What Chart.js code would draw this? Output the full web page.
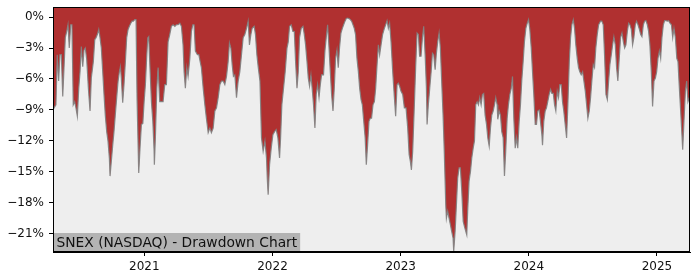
<!DOCTYPE html>
<html>
<head>
<meta charset="utf-8">
<script src="https://cdn.jsdelivr.net/npm/chart.js@4.4.1/dist/chart.umd.min.js"></script>
<style>
  body { margin: 0; background: #ffffff; }
  #box { width: 700px; height: 280px; position: relative; }
</style>
</head>
<body>
<div id="box"><canvas id="ddChart"></canvas></div>
<script>
// drawdown of SNEX, dates as decimal years
var dates = [
  2020.288, 2020.295, 2020.310, 2020.320, 2020.331, 2020.341, 2020.352, 2020.363, 2020.373, 2020.383,
  2020.394, 2020.404, 2020.414, 2020.425, 2020.435, 2020.445, 2020.456, 2020.466, 2020.477, 2020.488,
  2020.498, 2020.508, 2020.519, 2020.529, 2020.539, 2020.550, 2020.563, 2020.576, 2020.586, 2020.602,
  2020.613, 2020.623, 2020.633, 2020.644, 2020.654, 2020.664, 2020.675, 2020.685, 2020.695, 2020.706,
  2020.716, 2020.727, 2020.732, 2020.742, 2020.753, 2020.763, 2020.773, 2020.784, 2020.795, 2020.805,
  2020.813, 2020.820, 2020.831, 2020.841, 2020.852, 2020.862, 2020.873, 2020.883, 2020.894, 2020.904,
  2020.914, 2020.925, 2020.935, 2020.943, 2020.956, 2020.966, 2020.977, 2020.988, 2020.998, 2021.008,
  2021.019, 2021.027, 2021.034, 2021.045, 2021.055, 2021.066, 2021.076, 2021.078, 2021.086, 2021.097,
  2021.107, 2021.120, 2021.146, 2021.159, 2021.172, 2021.185, 2021.198, 2021.211, 2021.224, 2021.238,
  2021.250, 2021.263, 2021.277, 2021.289, 2021.302, 2021.310, 2021.320, 2021.331, 2021.341, 2021.355,
  2021.367, 2021.378, 2021.388, 2021.398, 2021.414, 2021.425, 2021.435, 2021.445, 2021.459, 2021.472,
  2021.484, 2021.498, 2021.511, 2021.523, 2021.537, 2021.550, 2021.563, 2021.576, 2021.589, 2021.602,
  2021.615, 2021.628, 2021.641, 2021.654, 2021.664, 2021.675, 2021.685, 2021.695, 2021.706, 2021.719,
  2021.732, 2021.745, 2021.758, 2021.771, 2021.784, 2021.797, 2021.810, 2021.820, 2021.831, 2021.841,
  2021.857, 2021.867, 2021.878, 2021.888, 2021.902, 2021.914, 2021.927, 2021.941, 2021.953, 2021.959,
  2021.966, 2021.977, 2021.990, 2022.003, 2022.016, 2022.029, 2022.042, 2022.055, 2022.063, 2022.073,
  2022.086, 2022.099, 2022.113, 2022.123, 2022.133, 2022.146, 2022.159, 2022.170, 2022.180, 2022.191,
  2022.201, 2022.211, 2022.224, 2022.238, 2022.248, 2022.258, 2022.269, 2022.279, 2022.289, 2022.300,
  2022.310, 2022.320, 2022.331, 2022.341, 2022.352, 2022.363, 2022.373, 2022.383, 2022.398, 2022.409,
  2022.420, 2022.430, 2022.441, 2022.451, 2022.461, 2022.472, 2022.482, 2022.492, 2022.503, 2022.513,
  2022.523, 2022.534, 2022.545, 2022.555, 2022.566, 2022.576, 2022.586, 2022.597, 2022.607, 2022.617,
  2022.628, 2022.638, 2022.648, 2022.659, 2022.670, 2022.680, 2022.691, 2022.701, 2022.712, 2022.723,
  2022.732, 2022.742, 2022.753, 2022.763, 2022.773, 2022.784, 2022.795, 2022.805, 2022.816, 2022.826,
  2022.836, 2022.847, 2022.859, 2022.873, 2022.883, 2022.894, 2022.904, 2022.914, 2022.925, 2022.938,
  2022.951, 2022.961, 2022.972, 2022.982, 2022.992, 2023.003, 2023.016, 2023.029, 2023.042, 2023.055,
  2023.066, 2023.076, 2023.084, 2023.094, 2023.107, 2023.117, 2023.128, 2023.138, 2023.148, 2023.159,
  2023.170, 2023.180, 2023.191, 2023.201, 2023.206, 2023.216, 2023.227, 2023.238, 2023.248, 2023.258,
  2023.269, 2023.279, 2023.289, 2023.300, 2023.310, 2023.320, 2023.331, 2023.341, 2023.352, 2023.357,
  2023.367, 2023.378, 2023.388, 2023.398, 2023.409, 2023.414, 2023.425, 2023.435, 2023.445, 2023.456,
  2023.466, 2023.477, 2023.488, 2023.498, 2023.508, 2023.516, 2023.523, 2023.534, 2023.545, 2023.555,
  2023.566, 2023.576, 2023.586, 2023.597, 2023.607, 2023.617, 2023.628, 2023.638, 2023.648, 2023.659,
  2023.670, 2023.680, 2023.691, 2023.701, 2023.711, 2023.722, 2023.732, 2023.742, 2023.753, 2023.758,
  2023.769, 2023.779, 2023.789, 2023.800, 2023.810, 2023.820, 2023.831, 2023.841, 2023.852, 2023.863,
  2023.873, 2023.883, 2023.894, 2023.904, 2023.914, 2023.925, 2023.935, 2023.945, 2023.956, 2023.966,
  2023.977, 2023.988, 2023.998, 2024.008, 2024.019, 2024.029, 2024.039, 2024.050, 2024.060, 2024.070,
  2024.081, 2024.091, 2024.102, 2024.107, 2024.117, 2024.128, 2024.138, 2024.148, 2024.159, 2024.170,
  2024.180, 2024.191, 2024.201, 2024.211, 2024.222, 2024.232, 2024.242, 2024.253, 2024.263, 2024.273,
  2024.284, 2024.295, 2024.305, 2024.316, 2024.326, 2024.336, 2024.347, 2024.357, 2024.367, 2024.378,
  2024.388, 2024.398, 2024.409, 2024.420, 2024.430, 2024.441, 2024.451, 2024.461, 2024.472, 2024.482,
  2024.492, 2024.503, 2024.513, 2024.523, 2024.534, 2024.545, 2024.560, 2024.570, 2024.581, 2024.591,
  2024.602, 2024.613, 2024.623, 2024.633, 2024.644, 2024.654, 2024.664, 2024.675, 2024.685, 2024.695,
  2024.706, 2024.716, 2024.727, 2024.738, 2024.748, 2024.758, 2024.769, 2024.779, 2024.789, 2024.800,
  2024.810, 2024.820, 2024.831, 2024.841, 2024.852, 2024.863, 2024.873, 2024.883, 2024.894, 2024.904,
  2024.914, 2024.925, 2024.935, 2024.945, 2024.956, 2024.966, 2024.977, 2024.988, 2024.998, 2025.008,
  2025.019, 2025.029, 2025.039, 2025.050, 2025.060, 2025.070, 2025.081, 2025.091, 2025.102, 2025.113,
  2025.123, 2025.133, 2025.144, 2025.155, 2025.164, 2025.175, 2025.185, 2025.195, 2025.201, 2025.211,
  2025.222, 2025.232, 2025.242, 2025.253, 2025.258
];
var drawdown = [
  -9.0, -8.8, -8.5, -3.65, -6.2, -3.65, -3.65, -7.7, -4.9, -2.0,
  -1.4, -0.75, -3.0, -0.75, -0.75, -8.5, -8.2, -8.8, -9.6, -6.9,
  -5.3, -2.85, -4.8, -3.2, -3.0, -4.1, -6.9, -9.1, -5.9, -4.3,
  -2.2, -2.0, -1.7, -1.2, -2.0, -3.0, -5.3, -7.5, -9.5, -11.1,
  -12.0, -13.7, -15.4, -14.0, -12.4, -11.1, -9.5, -7.8, -6.2, -5.3,
  -4.8, -5.9, -8.3, -6.55, -4.3, -2.0, -1.2, -0.9, -0.6, -0.4,
  -0.4, -0.25, -0.25, -8.0, -15.1, -12.7, -10.4, -10.3, -8.2, -6.55,
  -3.65, -2.0, -1.9, -5.3, -8.2, -10.1, -13.0, -14.3, -11.7, -6.9,
  -4.9, -8.2, -8.2, -6.55, -6.55, -2.4, -1.7, -0.9, -0.75, -0.9,
  -0.75, -0.75, -0.6, -0.9, -2.7, -5.3, -6.9, -4.9, -5.75, -4.0,
  -1.4, -0.75, -0.75, -3.3, -3.65, -3.65, -4.3, -4.9, -6.9, -8.5,
  -9.8, -11.2, -10.75, -11.2, -10.75, -9.1, -8.8, -7.8, -6.55, -6.2,
  -6.2, -6.55, -5.75, -4.3, -2.5, -3.0, -4.6, -5.75, -5.6, -7.8,
  -6.2, -5.3, -3.65, -2.0, -1.7, -1.1, -0.4, -2.7, -1.7, -1.1,
  -0.9, -1.7, -3.65, -4.8, -6.2, -11.7, -13.0, -12.0, -13.65, -15.6,
  -17.2, -14.3, -12.7, -11.4, -11.1, -10.9, -11.7, -13.65, -11.7, -8.5,
  -6.9, -5.3, -3.0, -2.4, -0.9, -0.75, -1.4, -1.4, -4.3, -6.9,
  -5.3, -2.0, -1.1, -0.9, -1.7, -2.7, -4.3, -5.9, -6.7, -5.6,
  -7.0, -8.5, -10.75, -7.5, -6.55, -7.8, -6.55, -5.6, -5.6, -3.3,
  -1.9, -0.75, -3.0, -5.3, -7.5, -9.1, -6.9, -4.0, -3.2, -4.9,
  -3.0, -1.55, -1.1, -0.75, -0.4, -0.15, -0.1, -0.15, -0.25, -0.4,
  -0.75, -1.1, -1.7, -4.0, -5.3, -6.9, -8.0, -8.5, -10.1, -11.7,
  -14.3, -12.4, -10.1, -9.8, -9.8, -8.5, -8.2, -6.9, -4.6, -2.7,
  -3.65, -2.7, -1.7, -1.1, -0.75, -0.35, -1.1, -0.6, -2.4, -5.3,
  -7.8, -9.6, -6.55, -6.4, -6.7, -7.2, -7.5, -8.8, -8.8, -10.75,
  -13.3, -14.0, -14.8, -13.0, -8.5, -4.9, -1.55, -1.7, -3.8, -3.8,
  -2.0, -0.9, -3.65, -6.9, -10.4, -8.5, -6.9, -5.3, -3.5, -3.65,
  -5.1, -3.5, -2.4, -1.55, -3.0, -6.2, -9.5, -13.3, -18.2, -19.5,
  -18.8, -19.5, -20.1, -20.75, -21.4, -22.7, -20.75, -18.2, -15.6, -14.6,
  -14.6, -16.9, -19.8, -20.3, -20.75, -21.1, -18.8, -15.9, -14.95, -13.65,
  -12.7, -12.0, -8.5, -8.2, -8.5, -7.8, -8.5, -7.5, -7.4, -9.5,
  -10.4, -11.7, -12.5, -10.75, -9.5, -9.1, -8.5, -7.8, -8.5, -9.9,
  -9.1, -9.5, -11.1, -11.7, -15.4, -13.0, -9.8, -8.5, -7.5, -6.9,
  -5.75, -9.8, -12.7, -11.7, -12.7, -10.1, -8.5, -6.2, -4.3, -2.4,
  -1.1, -0.6, -0.25, -1.2, -3.0, -5.3, -7.5, -10.4, -10.4, -9.1,
  -9.0, -10.1, -11.4, -12.4, -10.1, -9.1, -8.8, -8.2, -7.5, -7.0,
  -7.4, -7.4, -8.5, -9.1, -7.2, -7.8, -6.55, -6.55, -8.2, -9.1,
  -10.4, -11.7, -8.5, -4.3, -2.0, -0.75, -0.25, -1.1, -2.7, -4.0,
  -4.9, -5.3, -5.6, -5.3, -6.2, -7.2, -8.5, -9.8, -9.1, -7.8,
  -6.2, -4.6, -4.9, -3.0, -1.7, -0.75, -0.4, -0.4, -0.75, -3.65,
  -7.5, -8.0, -6.2, -4.6, -3.65, -2.7, -1.9, -2.7, -4.9, -6.2,
  -4.0, -2.0, -1.55, -2.4, -3.0, -2.7, -1.4, -0.6, -0.75, -1.2,
  -2.7, -2.0, -0.75, -0.4, -0.75, -1.2, -1.7, -1.9, -0.75, -0.4,
  -0.35, -0.75, -1.4, -2.7, -5.3, -8.65, -6.2, -5.9, -5.3, -4.0,
  -3.3, -4.0, -2.0, -0.75, -0.35, -0.35, -0.4, -0.35, -0.6, -0.75,
  -2.0, -1.1, -2.0, -4.0, -4.3, -6.9, -9.1, -11.4, -12.85, -10.1,
  -7.2, -6.2, -8.2, -7.8, -9.0
];
var yearTicks = [2021, 2022, 2023, 2024, 2025];
var pctTicks = [0, -3, -6, -9, -12, -15, -18, -21];
var chartTitle = "SNEX (NASDAQ) - Drawdown Chart";

var points = [];
for (var i = 0; i < dates.length; i++)
{
    points.push({x: dates[i], y: drawdown[i]});
}

var plotFrame = {
    id: 'plotFrame',
    beforeDraw: function (chart) {
        var a = chart.chartArea;
        var ctx = chart.ctx;
        ctx.save();
        ctx.fillStyle = '#eeeeee';
        ctx.fillRect(a.left, a.top, a.right - a.left, a.bottom - a.top);
        ctx.restore();
    },
    afterDraw: function (chart) {
        var a = chart.chartArea;
        var ctx = chart.ctx;
        ctx.save();
        // label box bottom left
        ctx.font = '13.8px "DejaVu Sans"';
        var w = ctx.measureText(chartTitle).width;
        ctx.fillStyle = '#b3b3b3';
        ctx.fillRect(a.left, a.bottom - 19, w + 6.5, 19);
        ctx.fillStyle = '#111111';
        ctx.textBaseline = 'alphabetic';
        ctx.fillText(chartTitle, a.left + 3.5, a.bottom - 4.8);
        // frame
        ctx.strokeStyle = '#000000';
        ctx.lineWidth = 1;
        ctx.strokeRect(a.left + 0.5, a.top + 0.5, a.right - a.left - 1, a.bottom - a.top - 1);
        ctx.restore();
    }
};

var ddChart = new Chart(document.getElementById('ddChart'), {
    type: 'line',
    data: {
        datasets: [{
            label: 'drawdown',
            data: points,
            borderColor: 'rgba(128,128,128,0.9)',
            borderWidth: 1.2,
            backgroundColor: '#b03030',
            fill: 'end',
            pointRadius: 0,
            tension: 0
        }]
    },
    options: {
        responsive: true,
        maintainAspectRatio: false,
        animation: false,
        devicePixelRatio: 1,
        layout: {
            padding: {left: 0, right: 10, top: 7, bottom: 0}
        },
        plugins: {
            legend: {display: false},
            tooltip: {enabled: false}
        },
        scales: {
            x: {
                type: 'linear',
                min: 2020.287,
                max: 2025.258,
                afterBuildTicks: function (scale) {
                    scale.ticks = yearTicks.map(function (v) { return {value: v}; });
                },
                afterFit: function (scale) {
                    scale.height = 28;
                    scale.paddingLeft = 0;
                    scale.paddingRight = 0;
                },
                grid: {drawOnChartArea: false, drawTicks: true, tickLength: 4, color: '#000000'},
                border: {display: true, color: '#000000'},
                ticks: {
                    color: '#111111',
                    padding: 4,
                    maxRotation: 0,
                    font: {family: 'DejaVu Sans', size: 12},
                    callback: function (v) { return String(v); }
                }
            },
            y: {
                type: 'linear',
                min: -22.75,
                max: 0.97,
                afterBuildTicks: function (scale) {
                    scale.ticks = pctTicks.map(function (v) { return {value: v}; });
                },
                afterFit: function (scale) {
                    scale.width = 53;
                    scale.paddingTop = 0;
                    scale.paddingBottom = 0;
                },
                grid: {drawOnChartArea: false, drawTicks: true, tickLength: 4, color: '#000000'},
                border: {display: true, color: '#000000'},
                ticks: {
                    color: '#111111',
                    padding: 5,
                    font: {family: 'DejaVu Sans', size: 12},
                    callback: function (v) {
                        if (v === 0) return '0%';
                        return (v < 0 ? '\u2212' : '') + Math.abs(v) + '%';
                    }
                }
            }
        }
    },
    plugins: [plotFrame]
});
</script>
</body>
</html>
